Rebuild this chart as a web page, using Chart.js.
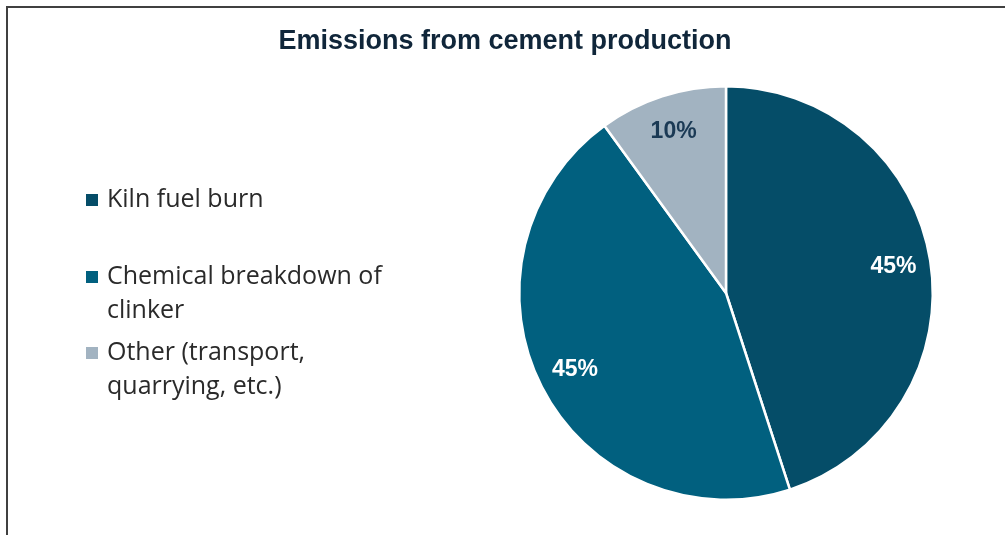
<!DOCTYPE html>
<html>
<head>
<meta charset="utf-8">
<script src="https://cdn.jsdelivr.net/npm/chart.js@4.4.1/dist/chart.umd.min.js"></script>
<style>
  html, body { margin: 0; padding: 0; background: #fff; }
  #wrap { position: relative; width: 1005px; height: 535px; }
  #frame { position: absolute; left: 6px; top: 6px; right: -4px; bottom: -4px;
           border-left: 2px solid #404040; border-top: 2px solid #404040; }
</style>
</head>
<body>
<div id="wrap">
  <canvas id="pieChart" width="1005" height="535"></canvas>
  <div id="frame"></div>
</div>
<script>
const chartTitle = 'Emissions from cement production';
const categories = ['Kiln fuel burn', 'Chemical breakdown of clinker', 'Other (transport, quarrying, etc.)'];
// legend lines as wrapped in the picture
const legendLines = [['Kiln fuel burn'], ['Chemical breakdown of', 'clinker'], ['Other (transport,', 'quarrying, etc.)']];
const shares = [45, 45, 10];
const sliceColors = ['#054d68', '#01607f', '#a2b3c1'];
const labelColors = ['#ffffff', '#ffffff', '#1b3a55'];

const overlay = {
  id: 'overlay',
  afterDraw(c) {
    const g = c.ctx;
    g.save();
    // title
    g.fillStyle = '#10263a';
    g.font = 'bold 27px "Liberation Sans", Arial, sans-serif';
    g.textAlign = 'center';
    g.textBaseline = 'middle';
    g.fillText(chartTitle, 505, 42);

    // legend
    const rows = [200, 277, 353];
    g.textAlign = 'left';
    g.font = '25px "Open Sans", sans-serif';
    legendLines.forEach((lines, i) => {
      g.fillStyle = sliceColors[i];
      g.fillRect(86, rows[i] - 6, 12, 12);
      g.fillStyle = '#2a2a2a';
      lines.forEach((t, j) => g.fillText(t, 107, rows[i] + j * 34));
    });

    // slice labels
    const meta = c.getDatasetMeta(0);
    g.textAlign = 'center';
    g.font = 'bold 23px "Liberation Sans", Arial, sans-serif';
    meta.data.forEach((arc, i) => {
      const p = arc.getProps(['x', 'y', 'startAngle', 'endAngle', 'outerRadius'], true);
      const mid = (p.startAngle + p.endAngle) / 2;
      const r = p.outerRadius * 0.82;
      g.fillStyle = labelColors[i];
      g.fillText(shares[i] + '%', p.x + Math.cos(mid) * r, p.y + Math.sin(mid) * r);
    });
    g.restore();
  }
};

new Chart(document.getElementById('pieChart'), {
  type: 'pie',
  data: {
    labels: categories,
    datasets: [{
      data: shares,
      backgroundColor: sliceColors,
      borderColor: '#ffffff',
      borderWidth: 2.5
    }]
  },
  options: {
    responsive: false,
    animation: false,
    layout: { padding: { left: 518, right: 71, top: 85, bottom: 34 } },
    plugins: {
      legend: { display: false },
      title: { display: false },
      tooltip: { enabled: false }
    }
  },
  plugins: [overlay]
});
</script>
</body>
</html>
